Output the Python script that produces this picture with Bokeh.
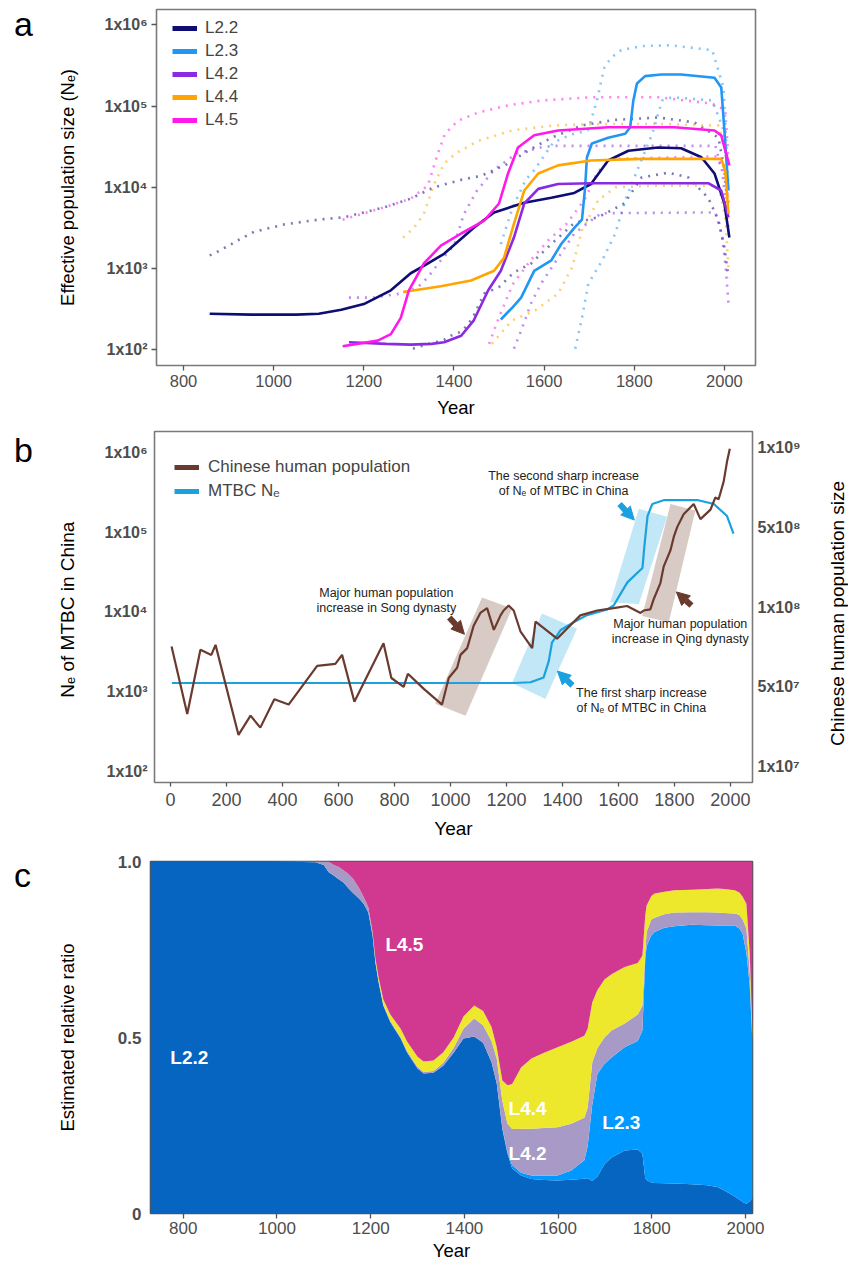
import math
import numpy as np
from bokeh.plotting import figure
from bokeh.layouts import column, row
from bokeh.models import (FixedTicker, Legend, LegendItem, Label, Range1d, LinearScale,
                          LinearAxis, Arrow, NormalHead, Div)
from bokeh.embed import file_html
from bokeh.resources import INLINE

FONT = "Liberation Sans"
TICK_COLOR = "#4D4D4D"

# ---------------- Panel a: Ne of lineages (values as log10 Ne) ----------------
lineages = ["L2.2", "L2.3", "L4.2", "L4.4", "L4.5"]
lineage_colors = ["#0D0D73", "#2196F3", "#8A2BE2", "#FFA500", "#FF19EB"]

L22_year = [858, 950, 1050, 1100, 1150, 1200, 1260, 1304, 1333, 1378, 1444, 1489, 1556, 1616, 1667, 1704, 1742, 1787, 1853, 1904, 1949, 1978, 2000, 2011]
L22_log = [2.44, 2.43, 2.43, 2.44, 2.49, 2.56, 2.73, 2.94, 3.03, 3.18, 3.50, 3.69, 3.81, 3.87, 3.93, 4.04, 4.33, 4.45, 4.49, 4.48, 4.37, 4.17, 3.80, 3.38]
L23_year = [1504, 1530, 1549, 1578, 1616, 1638, 1667, 1684, 1691, 1695, 1706, 1742, 1780, 1791, 1798, 1806, 1824, 1860, 1904, 1978, 1993, 2000, 2009]
L23_log = [2.37, 2.52, 2.64, 2.97, 3.10, 3.30, 3.50, 3.60, 4.00, 4.37, 4.54, 4.61, 4.66, 4.74, 5.07, 5.28, 5.37, 5.39, 5.39, 5.35, 5.23, 4.70, 3.96]
L42_year = [1167, 1250, 1304, 1350, 1378, 1416, 1444, 1476, 1504, 1533, 1556, 1587, 1631, 1704, 1964, 1993, 2009]
L42_log = [2.09, 2.07, 2.06, 2.07, 2.09, 2.17, 2.36, 2.73, 2.97, 3.38, 3.80, 3.98, 4.04, 4.05, 4.05, 3.96, 3.63]
L44_year = [1287, 1371, 1438, 1489, 1511, 1533, 1556, 1587, 1631, 1704, 1816, 1993, 2002, 2009]
L44_log = [2.71, 2.78, 2.85, 2.97, 3.13, 3.55, 3.96, 4.17, 4.27, 4.33, 4.35, 4.35, 4.20, 3.67]
L45_year = [1153, 1231, 1260, 1282, 1300, 1333, 1371, 1416, 1467, 1500, 1520, 1542, 1578, 1631, 1742, 1889, 1978, 1993, 2011]
L45_log = [2.04, 2.11, 2.19, 2.39, 2.73, 3.06, 3.28, 3.43, 3.59, 3.80, 4.17, 4.49, 4.64, 4.70, 4.74, 4.74, 4.70, 4.64, 4.27]

# confidence bounds (dotted)
L22_up_year = [858, 870, 900, 922, 956, 1022, 1098, 1156, 1244, 1304, 1356, 1422, 1460, 1520, 1564, 1616, 1682, 1756, 1853, 1933, 1987, 2000, 2008]
L22_up_log = [3.16, 3.19, 3.28, 3.35, 3.45, 3.54, 3.60, 3.63, 3.75, 3.86, 4.00, 4.10, 4.14, 4.29, 4.45, 4.61, 4.76, 4.83, 4.86, 4.80, 4.61, 4.21, 3.70]
L22_lo_year = [1309, 1344, 1378, 1393, 1416, 1430, 1444, 1467, 1500, 1533, 1571, 1616, 1667, 1720, 1778, 1816, 1876, 1920, 1964, 1987, 2000, 2009]
L22_lo_log = [2.01, 2.07, 2.12, 2.17, 2.22, 2.30, 2.42, 2.69, 2.77, 2.95, 3.06, 3.30, 3.56, 3.63, 3.80, 4.12, 4.18, 4.12, 3.87, 3.59, 3.26, 2.89]
L23_up_year = [1504, 1530, 1560, 1578, 1620, 1660, 1697, 1711, 1719, 1727, 1734, 1749, 1771, 1816, 1880, 1973, 1998, 2009]
L23_up_log = [3.30, 3.75, 4.10, 4.21, 4.55, 4.65, 4.70, 4.95, 5.11, 5.32, 5.48, 5.60, 5.69, 5.74, 5.75, 5.69, 5.23, 4.00]
L23_lo_year = [1669, 1684, 1698, 1729, 1758, 1780, 1809, 1840, 1862, 1884, 1973, 1996, 2007]
L23_lo_log = [2.01, 2.39, 2.81, 3.10, 3.43, 3.84, 4.24, 4.66, 5.07, 5.11, 5.07, 4.74, 4.25]
L42_up_year = [1167, 1222, 1282, 1320, 1342, 1371, 1400, 1422, 1450, 1490, 1540, 1600, 1631, 1980, 1995, 2009]
L42_up_log = [2.64, 2.64, 2.69, 2.77, 2.89, 3.10, 3.28, 3.67, 3.95, 4.22, 4.42, 4.50, 4.51, 4.51, 4.20, 3.50]
L42_lo_year = [1533, 1549, 1571, 1593, 1631, 1667, 1704, 1727, 1980, 1995, 2003, 2009]
L42_lo_log = [2.01, 2.23, 2.57, 2.81, 3.13, 3.43, 3.59, 3.68, 3.69, 3.40, 3.00, 2.57]
L44_up_year = [1287, 1311, 1333, 1356, 1378, 1402, 1453, 1529, 1618, 1707, 1853, 1987, 2002, 2009]
L44_up_log = [3.38, 3.50, 3.67, 4.04, 4.29, 4.41, 4.57, 4.70, 4.76, 4.78, 4.78, 4.76, 4.45, 3.84]
L44_lo_year = [1484, 1529, 1580, 1631, 1662, 1684, 1720, 1758, 1853, 1987, 2002, 2009]
L44_lo_log = [2.07, 2.36, 2.48, 2.69, 3.01, 3.47, 3.84, 4.00, 4.02, 4.02, 3.63, 3.01]
L45_up_year = [1153, 1244, 1304, 1342, 1364, 1380, 1409, 1453, 1520, 1596, 1707, 1853, 1973, 2002, 2009]
L45_up_log = [3.60, 3.75, 3.86, 4.02, 4.41, 4.66, 4.82, 4.92, 5.01, 5.07, 5.11, 5.11, 5.03, 4.95, 4.33]
L45_lo_year = [1478, 1500, 1530, 1570, 1610, 1650, 1690, 1720, 1750, 1980, 2000, 2010]
L45_lo_log = [2.07, 2.40, 2.80, 3.10, 3.35, 3.55, 3.85, 4.20, 4.35, 4.38, 4.20, 3.80]

ne_ticks = [1e2, 1e3, 1e4, 1e5, 1e6]
ne_tick_labels = ["1x10²", "1x10³", "1x10⁴", "1x10⁵", "1x10⁶"]
year_ticks_a = [800, 1000, 1200, 1400, 1600, 1800, 2000]

# ---------------- Panel b ----------------
mtbc_year = [5, 200, 400, 600, 800, 1000, 1226, 1286, 1333, 1351, 1363, 1393, 1440, 1488, 1560, 1583, 1632, 1686, 1693, 1704, 1721, 1764, 1882, 1941, 1988, 2011]
mtbc_log = [3.11, 3.11, 3.11, 3.11, 3.11, 3.11, 3.11, 3.12, 3.18, 3.38, 3.62, 3.77, 3.87, 3.96, 4.03, 4.08, 4.37, 4.55, 4.83, 5.20, 5.35, 5.40, 5.40, 5.35, 5.20, 4.98]
human_year = [4, 60, 107, 146, 161, 243, 286, 321, 371, 422, 524, 589, 613, 657, 761, 789, 833, 848, 905, 970,
              994, 1024, 1036, 1060, 1083, 1107, 1131, 1155, 1179, 1190, 1208, 1226, 1250, 1292, 1304, 1381, 1417, 1464, 1524, 1583,
              1631, 1679, 1690, 1714, 1726, 1750, 1762, 1786, 1798, 1810, 1833, 1869, 1893, 1929, 1946, 1958, 1976, 1988, 1998]
human_million = [71, 29, 69, 66, 72, 19, 28, 22, 39, 35, 60, 61, 66, 37, 73, 54, 50, 56, 48, 35,
                 54, 59, 66, 70, 85, 95, 99, 82, 93, 97, 103, 97, 81, 70, 88, 76, 83, 93, 97, 99,
                 102, 95, 97, 98, 117, 162, 227, 314, 412, 500, 559, 611, 536, 582, 646, 637, 742, 883, 986]
pop_ticks = [1e7, 5e7, 1e8, 5e8, 1e9]
pop_tick_labels = ["1x10⁷", "5x10⁷", "1x10⁸", "5x10⁸", "1x10⁹"]
year_ticks_b = [0, 200, 400, 600, 800, 1000, 1200, 1400, 1600, 1800, 2000]

# ---------------- Panel c: cumulative stacked ratios ----------------
c_year = [730, 1000, 1082, 1100, 1110,
          1121, 1131, 1142, 1152, 1163,
          1175, 1185, 1195, 1204, 1210,
          1217, 1227, 1242, 1264, 1278,
          1300, 1313, 1334, 1355, 1377,
          1398, 1421, 1440, 1458, 1469,
          1481, 1492, 1502, 1521, 1543,
          1570, 1599, 1628, 1656, 1663,
          1673, 1684, 1699, 1714, 1742,
          1770, 1780, 1786, 1789, 1799,
          1806, 1827, 1848, 1885, 1919,
          1940, 1955, 1977, 1987, 1994,
          2002, 2009, 2015]
top_L22 = [1.0, 1.0, 0.998, 0.99, 0.97,
           0.96, 0.95, 0.94, 0.925, 0.91,
           0.895, 0.88, 0.855, 0.79, 0.713,
           0.656, 0.59, 0.543, 0.497, 0.457,
           0.412, 0.398, 0.40, 0.42, 0.457,
           0.497, 0.503, 0.485, 0.43, 0.37,
           0.24, 0.17, 0.128, 0.108, 0.098,
           0.095, 0.094, 0.096, 0.099, 0.10,
           0.092, 0.105, 0.14, 0.159, 0.179,
           0.182, 0.17, 0.10, 0.095, 0.088,
           0.087, 0.086, 0.085, 0.083, 0.08,
           0.075, 0.065, 0.048, 0.04, 0.033,
           0.028, 0.035, 0.043]
top_L23 = [1.0, 1.0, 0.998, 0.99, 0.97,
           0.96, 0.95, 0.94, 0.925, 0.91,
           0.895, 0.88, 0.855, 0.79, 0.713,
           0.656, 0.59, 0.543, 0.497, 0.457,
           0.412, 0.398, 0.40, 0.42, 0.457,
           0.497, 0.503, 0.485, 0.43, 0.37,
           0.242, 0.175, 0.138, 0.116, 0.108,
           0.107, 0.108, 0.122, 0.151, 0.19,
           0.31, 0.397, 0.425, 0.443, 0.472,
           0.49, 0.52, 0.72, 0.76, 0.79,
           0.80, 0.812, 0.816, 0.82, 0.819,
           0.818, 0.818, 0.818, 0.81, 0.795,
           0.74, 0.65, 0.48]
top_L42 = [1.0, 1.0, 1.0, 1.0, 1.0,
           0.99, 0.985, 0.975, 0.965, 0.95,
           0.925, 0.90, 0.87, 0.795, 0.716,
           0.659, 0.594, 0.547, 0.501, 0.461,
           0.416, 0.402, 0.405, 0.428, 0.47,
           0.525, 0.554, 0.535, 0.49, 0.44,
           0.32, 0.255, 0.24, 0.241, 0.241,
           0.243, 0.245, 0.255, 0.272, 0.30,
           0.43, 0.47, 0.50, 0.52, 0.54,
           0.565, 0.59, 0.74, 0.80, 0.835,
           0.84, 0.85, 0.855, 0.856, 0.856,
           0.855, 0.854, 0.852, 0.848, 0.835,
           0.81, 0.69, 0.49]
top_L44 = [1.0, 1.0, 1.0, 1.0, 1.0,
           0.99, 0.985, 0.975, 0.965, 0.95,
           0.925, 0.90, 0.87, 0.80, 0.725,
           0.67, 0.608, 0.565, 0.525, 0.488,
           0.445, 0.432, 0.435, 0.458, 0.50,
           0.56, 0.591, 0.575, 0.53, 0.473,
           0.378, 0.364, 0.368, 0.415, 0.44,
           0.457, 0.472, 0.488, 0.505, 0.525,
           0.60, 0.635, 0.665, 0.68, 0.70,
           0.712, 0.733, 0.846, 0.875, 0.902,
           0.909, 0.914, 0.918, 0.92, 0.922,
           0.923, 0.922, 0.918, 0.912, 0.90,
           0.88, 0.74, 0.52]
top_L45 = [1.0] * len(c_year)
c_colors = ["#0565C0", "#0099FF", "#A89AC6", "#EDE82C", "#D0398F"]
ratio_ticks = [0, 0.5, 1.0]
ratio_tick_labels = ["0", "0.5", "1.0"]
year_ticks_c = [800, 1000, 1200, 1400, 1600, 1800, 2000]

LETTER_W = 40
RIGHT_LABEL_W = 24
FIG_W = 848 - LETTER_W


def make_fig(height, xr, yr, ylog, left, right, top, bottom, width=FIG_W):
    p = figure(width=width, height=height, x_range=xr, y_range=yr,
               y_axis_type="log" if ylog else "linear", output_backend="svg",
               toolbar_location=None, title=None,
               min_border_left=left - LETTER_W, min_border_right=right,
               min_border_top=top, min_border_bottom=bottom)
    p.xgrid.visible = False
    p.ygrid.visible = False
    p.outline_line_color = "#7A7A7A"
    p.outline_line_width = 1.6
    p.border_fill_color = "white"
    p.background_fill_color = "white"
    return p


def style_axis(ax, size, bold=False, tick_out=5, standoff=4, label_size=18, label_standoff=8):
    ax.axis_line_color = None
    ax.minor_tick_line_color = None
    ax.major_tick_in = 0
    ax.major_tick_out = tick_out
    ax.major_tick_line_color = "#555555" if tick_out > 0 else None
    ax.major_tick_line_width = 1.3
    ax.major_label_standoff = standoff
    ax.major_label_text_font = FONT
    ax.major_label_text_font_size = f"{size}px"
    ax.major_label_text_color = TICK_COLOR
    ax.major_label_text_font_style = "bold" if bold else "normal"
    ax.axis_label_text_font = FONT
    ax.axis_label_text_font_size = f"{label_size}px"
    ax.axis_label_text_font_style = "normal"
    ax.axis_label_text_color = "black"
    ax.axis_label_standoff = label_standoff


def letter(text, height, pad_top):
    return Div(text=(f'<div style="padding-left:14px; padding-top:{pad_top}px; '
                     f'font-family:\'{FONT}\'; font-size:34px; line-height:34px; color:black;">{text}</div>'),
               width=LETTER_W, height=height, margin=(0, 0, 0, 0))


def pow10(v):
    return [10 ** t for t in v]


# ======================= Panel a =======================
HA = 421
pa = make_fig(HA, (740, 2069), (10 ** 1.803, 10 ** 6.191), True, 156, 93, 9, 56)
bounds = [
    (L22_up_year, L22_up_log, L22_lo_year, L22_lo_log),
    (L23_up_year, L23_up_log, L23_lo_year, L23_lo_log),
    (L42_up_year, L42_up_log, L42_lo_year, L42_lo_log),
    (L44_up_year, L44_up_log, L44_lo_year, L44_lo_log),
    (L45_up_year, L45_up_log, L45_lo_year, L45_lo_log),
]
for (uy, ul, ly, ll), col in zip(bounds, lineage_colors):
    pa.line(uy, pow10(ul), line_color=col, line_width=2.6, line_dash="2 6", line_alpha=0.55)
    pa.line(ly, pow10(ll), line_color=col, line_width=2.6, line_dash="2 6", line_alpha=0.55)

solids = [(L22_year, L22_log), (L23_year, L23_log), (L42_year, L42_log), (L44_year, L44_log), (L45_year, L45_log)]
items = []
for (yy, ll), col, name in zip(solids, lineage_colors, lineages):
    pa.line(yy, pow10(ll), line_color=col, line_width=2.6)
    # off-range helper renderer so the legend shows a thick key line
    key = pa.line([-5000, -4990], [1e3, 1e3], line_color=col, line_width=5)
    items.append(LegendItem(label=name, renderers=[key]))

leg_a = Legend(items=items, location=(16, 235), padding=0, margin=0, spacing=3,
               glyph_width=25, glyph_height=20, label_height=20, label_standoff=8,
               label_text_font=FONT, label_text_font_size="17px",
               border_line_color=None, background_fill_alpha=0)
pa.add_layout(leg_a, "center")

pa.xaxis.ticker = FixedTicker(ticks=year_ticks_a)
pa.yaxis.ticker = FixedTicker(ticks=ne_ticks)
pa.yaxis.major_label_overrides = {int(t): s for t, s in zip(ne_ticks, ne_tick_labels)}
pa.xaxis.axis_label = "Year"
pa.yaxis.axis_label = "Effective population size (Nₑ)"
style_axis(pa.xaxis[0], 16.5, tick_out=5, standoff=4, label_size=18.5, label_standoff=7)
style_axis(pa.yaxis[0], 16, bold=True, tick_out=5, standoff=4, label_size=18.5, label_standoff=23)

# ======================= Panel b =======================
HB = 420
WB = FIG_W - RIGHT_LABEL_W
pb = make_fig(HB, (-57, 2079), (10 ** 1.865, 10 ** 6.258), True, 154, LETTER_W + WB - 752, 10, 53, width=WB)
pb.extra_y_ranges = {"pop": Range1d(-0.197, 4.197)}
pb.extra_y_scales = {"pop": LinearScale()}

shade_brown = "#D8CBC5"
shade_blue = "#C2E7F6"
song_x, song_y = [946, 1113, 1220, 1054], [708, 15100, 11000, 500]
first_x, first_y = [1220, 1327, 1452, 1339], [1290, 9550, 6170, 813]
second_x, second_y = [1571, 1673, 1774, 1673], [13200, 195000, 155000, 12600]
qing_x, qing_y = [1685, 1786, 1875, 1780], [8900, 224000, 186000, 7400]
pb.patch(song_x, song_y, fill_color=shade_brown, line_color=None)
pb.patch(first_x, first_y, fill_color=shade_blue, line_color=None)
pb.patch(second_x, second_y, fill_color=shade_blue, line_color=None)
pb.patch(qing_x, qing_y, fill_color=shade_brown, line_color=None)

brown = "#6B3A2E"
blue = "#1BA1DF"
pb.line(mtbc_year, pow10(mtbc_log), line_color=blue, line_width=2.2)
pop_pos = np.interp(np.log10(np.array(human_million) * 1e6), np.log10(pop_ticks), [0, 1, 2, 3, 4])
pb.line(human_year, pop_pos, line_color=brown, line_width=2.2, y_range_name="pop")

k1 = pb.line([-5000, -4990], [1e3, 1e3], line_color=brown, line_width=5)
k2 = pb.line([-5000, -4990], [1e3, 1e3], line_color=blue, line_width=5)
leg_b = Legend(items=[LegendItem(label="Chinese human population", renderers=[k1]),
                      LegendItem(label="MTBC Nₑ", renderers=[k2])],
               location=(20, 279), padding=0, margin=0, spacing=0,
               glyph_width=25, glyph_height=24, label_height=24, label_standoff=9,
               label_text_font=FONT, label_text_font_size="17px",
               border_line_color=None, background_fill_alpha=0)
pb.add_layout(leg_b, "center")

for xs, ys, xe, ye, c in [(996, 8500, 1050, 5250, brown), (1861, 12000, 1807, 17800, brown),
                          (1436, 1200, 1382, 1820, blue), (1604, 224000, 1657, 141000, blue)]:
    pb.add_layout(Arrow(end=NormalHead(size=13, fill_color=c, line_color=c),
                        x_start=xs, y_start=ys, x_end=xe, y_end=ye,
                        line_color=c, line_width=6))

notes = [(771, 17140, "Major human population"), (771, 11150, "increase in Song dynasty"),
         (1404, 496600, "The second sharp increase"), (1404, 324500, "of Nₑ of MTBC in China"),
         (1821, 7080, "Major human population"), (1821, 4620, "increase in Qing dynasty"),
         (1682, 957, "The first sharp increase"), (1682, 631, "of Nₑ of MTBC in China")]
for x, y, t in notes:
    pb.add_layout(Label(x=x, y=y, text=t, text_align="center", text_baseline="middle",
                        text_font=FONT, text_font_size="12.5px", text_color="#222222"))

pb.xaxis.ticker = FixedTicker(ticks=year_ticks_b)
pb.yaxis.ticker = FixedTicker(ticks=ne_ticks)
pb.yaxis.major_label_overrides = {int(t): s for t, s in zip(ne_ticks, ne_tick_labels)}
pb.xaxis.axis_label = "Year"
pb.yaxis.axis_label = "Nₑ of  MTBC in China"
style_axis(pb.xaxis[0], 18, tick_out=4, standoff=6, label_size=19, label_standoff=9)
style_axis(pb.yaxis[0], 16, bold=True, tick_out=0, standoff=7, label_size=19, label_standoff=23)

rax = LinearAxis(y_range_name="pop", ticker=FixedTicker(ticks=[0, 1, 2, 3, 4]),
                 major_label_overrides={i: s for i, s in enumerate(pop_tick_labels)})
style_axis(rax, 16, bold=True, tick_out=0, standoff=5)
pb.add_layout(rax, "right")

# right-hand axis title, rotated to read bottom-to-top as in the reference
right_title = Div(text=('<div style="height:357px; margin-top:14px; display:flex; align-items:center; '
                        'justify-content:center; writing-mode:vertical-rl; transform:rotate(180deg); '
                        f'font-family:\'{FONT}\'; font-size:19px; color:black; white-space:nowrap;">'
                        'Chinese human population size</div>'),
                  width=RIGHT_LABEL_W, height=HB, margin=(0, 0, 0, 0))

# ======================= Panel c =======================
HC = 424
pc = make_fig(HC, (730, 2015), (0, 1), False, 150, 96, 20, HC - 372)
pc.outline_line_color = "#555555"
stack = [[0.0] * len(c_year), top_L22, top_L23, top_L42, top_L44, top_L45]
for i, col in enumerate(c_colors):
    pc.varea(x=c_year, y1=stack[i], y2=stack[i + 1], fill_color=col)

for x, y, t in [(813, 0.443, "L2.2"), (1272, 0.764, "L4.5"), (1535, 0.298, "L4.4"),
                (1535, 0.170, "L4.2"), (1735, 0.259, "L2.3")]:
    pc.add_layout(Label(x=x, y=y, text=t, text_align="center", text_baseline="middle",
                        text_font=FONT, text_font_size="19px", text_font_style="bold",
                        text_color="white"))

pc.xaxis.ticker = FixedTicker(ticks=year_ticks_c)
pc.yaxis.ticker = FixedTicker(ticks=ratio_ticks)
pc.yaxis.major_label_overrides = {t: s for t, s in zip(ratio_ticks, ratio_tick_labels)}
pc.xaxis.axis_label = "Year"
pc.yaxis.axis_label = "Estimated relative ratio"
style_axis(pc.xaxis[0], 17, tick_out=5, standoff=3, label_size=18.5, label_standoff=3)
style_axis(pc.yaxis[0], 17, bold=True, tick_out=0, standoff=9, label_size=18.5, label_standoff=37)

layout = column(row(letter("a", HA, 7), pa),
                row(letter("b", HB, 12), pb, right_title),
                row(letter("c", HC, 17), pc))
open("out.html", "w").write(file_html(layout, INLINE))
